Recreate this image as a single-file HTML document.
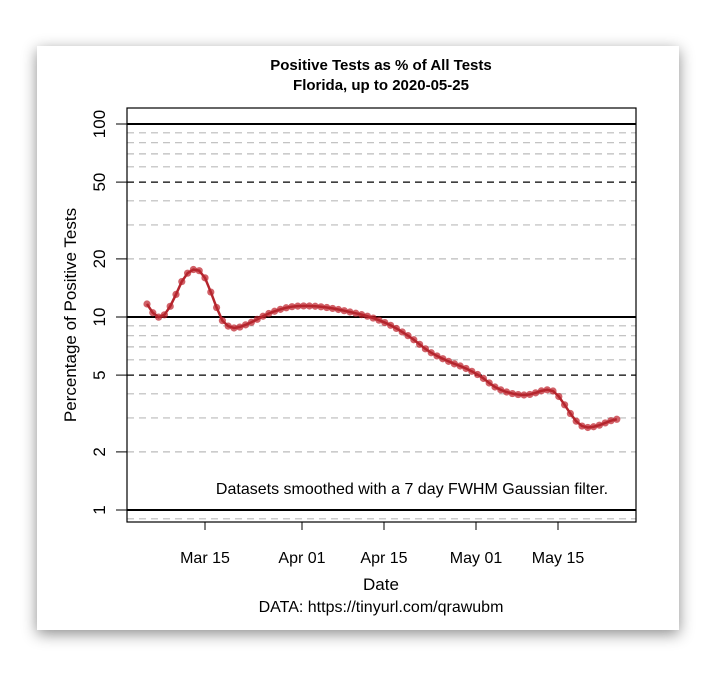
<!DOCTYPE html>
<html><head><style>
body{margin:0;background:#fff;width:717px;height:675px;overflow:hidden}
.card{position:absolute;left:37px;top:46px;width:642px;height:584px;background:#fff;box-shadow:0 4px 14px rgba(0,0,0,0.45)}
svg{position:absolute;left:0;top:0}
text{font-family:"Liberation Sans",sans-serif}
</style></head><body>
<div class="card"></div>
<svg id="s" width="717" height="675" xmlns="http://www.w3.org/2000/svg">
<g id="grid"></g>
<rect x="127" y="108" width="509" height="414" fill="none" stroke="#000" stroke-width="1.2"/>
<text x="381" y="70" text-anchor="middle" font-size="15" font-weight="bold">Positive Tests as % of All Tests</text>
<text x="381" y="90" text-anchor="middle" font-size="15" font-weight="bold">Florida, up to 2020-05-25</text>
<g font-size="16" text-anchor="middle">
<text x="205" y="563">Mar 15</text><text x="302" y="563">Apr 01</text><text x="384" y="563">Apr 15</text><text x="476" y="563">May 01</text><text x="558" y="563">May 15</text>
<text x="381" y="590" font-size="17">Date</text>
<text x="381" y="612">DATA: https://tinyurl.com/qrawubm</text>
<text x="412" y="494">Datasets smoothed with a 7 day FWHM Gaussian filter.</text>
</g>
<text transform="translate(76,315) rotate(-90)" text-anchor="middle" font-size="17">Percentage of Positive Tests</text>
<g id="ticks" font-size="17" text-anchor="middle"></g>
<g id="pts"></g>
</svg>
<script>
var NS="http://www.w3.org/2000/svg";
function el(p,t,a,txt){var e=document.createElementNS(NS,t);for(var k in a)e.setAttribute(k,a[k]);if(txt)e.textContent=txt;document.getElementById(p).appendChild(e);return e;}
function Y(v){return 510-193*Math.log10(v);}
var g=[0.9,2,3,4,6,7,8,9,20,30,40,60,70,80,90];
g.forEach(function(v){var y=Y(v);el("grid","line",{x1:127,x2:636,y1:y,y2:y,stroke:"#bbb","stroke-width":1.2,"stroke-dasharray":"7,5"});});
[5,50].forEach(function(v){var y=Y(v);el("grid","line",{x1:127,x2:636,y1:y,y2:y,stroke:"#000","stroke-width":1.2,"stroke-dasharray":"7,5"});});
[1,10,100].forEach(function(v){var y=Y(v);el("grid","line",{x1:127,x2:636,y1:y,y2:y,stroke:"#000","stroke-width":2});});
[1,2,5,10,20,50,100].forEach(function(v){var y=Y(v);el("ticks","line",{x1:116,x2:127,y1:y,y2:y,stroke:"#000"});
el("ticks","text",{transform:"translate(105,"+y+") rotate(-90)"},String(v));});
[205,302,384,476,558].forEach(function(x){el("ticks","line",{x1:x,x2:x,y1:522,y2:530,stroke:"#000"});});
var P=[[147,304],[153,313],[158,317],[163,316],[168,310],[174,299],[180,285],[186,275],[192,270],[198,270],[204,276],[210,290],[216,306],[222,320],[228,326],[234,328],[240,327],[252,322],[270,313],[290,307],[310,306],[330,308],[350,312],[370,317],[390,325],[410,337],[430,352],[450,362],[465,368],[480,376],[495,387],[510,393],[525,395],[535,393],[545,390],[553,391],[560,398],[568,410],[576,421],[584,427],[592,427],[600,425],[610,421],[618,419]];
var D=[];for(var i=0;i<P.length-1;i++){var p0=P[Math.max(i-1,0)],p1=P[i],p2=P[i+1],p3=P[Math.min(i+2,P.length-1)];
for(var t=0;t<1;t+=0.02){var t2=t*t,t3=t2*t;var f=function(a,b,c,d){return 0.5*(2*b+(-a+c)*t+(2*a-5*b+4*c-d)*t2+(-a+3*b-3*c+d)*t3);};D.push([f(p0[0],p1[0],p2[0],p3[0]),f(p0[1],p1[1],p2[1],p3[1])]);}}
D.push(P[P.length-1]);
function yAt(x){for(var i=0;i<D.length-1;i++){if(D[i][0]<=x&&D[i+1][0]>=x){var r=(x-D[i][0])/((D[i+1][0]-D[i][0])||1);return D[i][1]+r*(D[i+1][1]-D[i][1]);}}return D[D.length-1][1];}
var s="";for(var x=147;x<=618.5;x+=5.8){var y=yAt(x);s+=(s?"L":"M")+x+","+y;el("pts","circle",{cx:x,cy:y,r:3.6,fill:"rgba(190,30,40,0.7)"});}
el("pts","path",{d:s,fill:"none",stroke:"#b5252d","stroke-width":2.5});
</script>
</body></html>
